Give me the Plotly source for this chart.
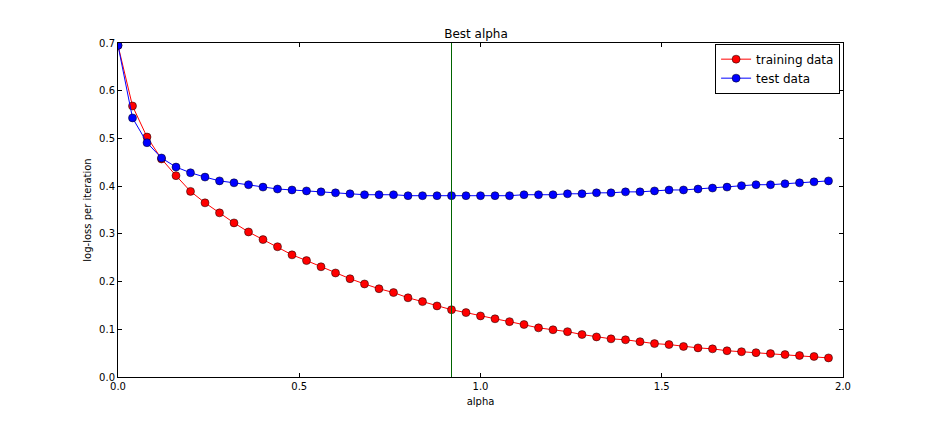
import plotly.graph_objects as go

alpha = [round(i * 0.04, 2) for i in range(50)]

train_loss = [0.695, 0.568, 0.503, 0.457, 0.422, 0.389, 0.365, 0.344, 0.323, 0.304,
              0.288, 0.273, 0.256, 0.244, 0.231, 0.218, 0.206, 0.195, 0.185, 0.177,
              0.166, 0.158, 0.149, 0.141, 0.135, 0.128, 0.122, 0.116, 0.110, 0.103,
              0.099, 0.095, 0.089, 0.084, 0.080, 0.078, 0.074, 0.070, 0.068, 0.064,
              0.061, 0.059, 0.055, 0.053, 0.051, 0.049, 0.047, 0.045, 0.043, 0.040]

test_loss = [0.695, 0.543, 0.491, 0.459, 0.440, 0.428, 0.419, 0.411, 0.407, 0.403,
             0.398, 0.394, 0.392, 0.390, 0.388, 0.386, 0.384, 0.382, 0.382, 0.382,
             0.380, 0.380, 0.380, 0.380, 0.380, 0.380, 0.380, 0.380, 0.382, 0.382,
             0.382, 0.384, 0.384, 0.386, 0.386, 0.388, 0.388, 0.390, 0.392, 0.392,
             0.394, 0.396, 0.398, 0.401, 0.403, 0.403, 0.405, 0.407, 0.409, 0.411]

best_alpha = 0.92

font = "DejaVu Sans"

fig = go.Figure()
fig.add_trace(go.Scatter(
    x=alpha, y=train_loss, mode="lines+markers", name="training data",
    line=dict(color="#ff0000", width=1),
    marker=dict(color="#ff0000", size=8, line=dict(color="black", width=0.5))
))
fig.add_trace(go.Scatter(
    x=alpha, y=test_loss, mode="lines+markers", name="test data",
    line=dict(color="#0000ff", width=1),
    marker=dict(color="#0000ff", size=8, line=dict(color="black", width=0.5))
))
# best alpha marker line
fig.add_vline(x=best_alpha, line=dict(color="#006400", width=1))

axis_style = dict(
    showgrid=False, zeroline=False, showline=True, linecolor="black", linewidth=1,
    mirror="allticks", ticks="inside", ticklen=4, tickcolor="black",
    tickfont=dict(family=font, size=10, color="black"), tickformat=".1f",
)

fig.update_layout(
    width=936, height=432,
    paper_bgcolor="white", plot_bgcolor="white",
    margin=dict(l=110, r=101, t=35, b=63),
    font=dict(family=font, color="black"),
    title=dict(text="Best alpha", x=0.5, xanchor="center", y=0.93, yanchor="bottom",
               font=dict(family=font, size=12, color="black")),
    xaxis=dict(range=[0, 2], dtick=0.5, tick0=0,
               title=dict(text="alpha", font=dict(family=font, size=10), standoff=6),
               **axis_style),
    yaxis=dict(range=[0, 0.7], dtick=0.1, tick0=0,
               title=dict(text="log-loss per iteration", font=dict(family=font, size=10), standoff=5),
               **axis_style),
    legend=dict(x=0.996, y=0.998, xanchor="right", yanchor="top",
                bordercolor="black", borderwidth=1, bgcolor="white",
                font=dict(family=font, size=12, color="black"),
                tracegroupgap=0),
    showlegend=True,
)

fig.write_html("out.html")
